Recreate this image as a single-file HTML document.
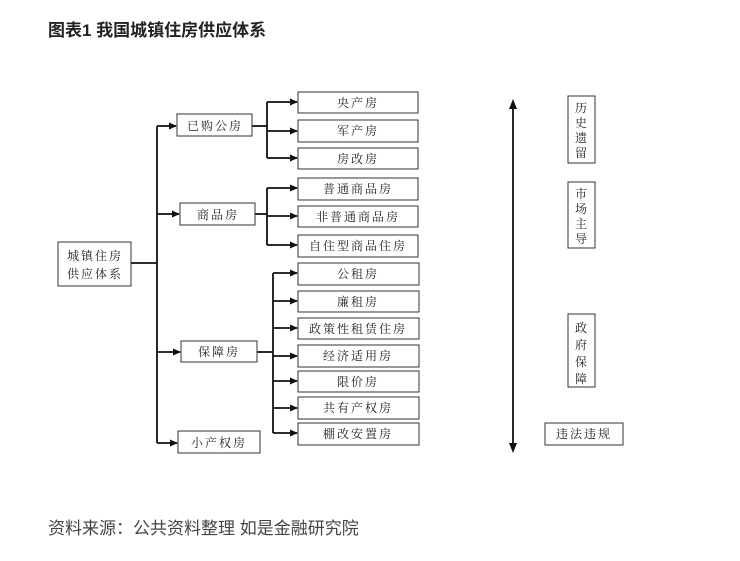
<!DOCTYPE html>
<html><head><meta charset="utf-8"><style>
html,body{margin:0;padding:0;background:#fff;}
svg{display:block;}
</style></head><body>
<svg width="740" height="561" viewBox="0 0 740 561" xmlns="http://www.w3.org/2000/svg">
<defs><marker id="a" markerWidth="8" markerHeight="8" refX="7" refY="4" orient="auto" markerUnits="userSpaceOnUse"><path d="M0,0.5 L8,4 L0,7.5 z" fill="#111"/></marker></defs>
<text x="48" y="36" font-family="'Liberation Sans','Noto Sans CJK SC',sans-serif" font-size="17" font-weight="bold" fill="#222">图表1 我国城镇住房供应体系</text>
<g stroke="#111" stroke-width="1.8" fill="none">
<line x1="131" y1="263" x2="157" y2="263"/>
<line x1="157" y1="126" x2="157" y2="443"/>
<line x1="157" y1="126" x2="176" y2="126" marker-end="url(#a)"/>
<line x1="157" y1="214" x2="179" y2="214" marker-end="url(#a)"/>
<line x1="157" y1="352" x2="180" y2="352" marker-end="url(#a)"/>
<line x1="157" y1="443" x2="177" y2="443" marker-end="url(#a)"/>
<line x1="252" y1="126" x2="267" y2="126"/>
<line x1="267" y1="102" x2="267" y2="158"/>
<line x1="267" y1="102" x2="297" y2="102" marker-end="url(#a)"/>
<line x1="267" y1="131" x2="297" y2="131" marker-end="url(#a)"/>
<line x1="267" y1="158" x2="297" y2="158" marker-end="url(#a)"/>
<line x1="255" y1="214" x2="267" y2="214"/>
<line x1="267" y1="188" x2="267" y2="245"/>
<line x1="267" y1="188" x2="297" y2="188" marker-end="url(#a)"/>
<line x1="267" y1="216" x2="297" y2="216" marker-end="url(#a)"/>
<line x1="267" y1="245" x2="297" y2="245" marker-end="url(#a)"/>
<line x1="257" y1="352" x2="273" y2="352"/>
<line x1="273" y1="273" x2="273" y2="433"/>
<line x1="273" y1="273" x2="297" y2="273" marker-end="url(#a)"/>
<line x1="273" y1="301" x2="297" y2="301" marker-end="url(#a)"/>
<line x1="273" y1="328" x2="297" y2="328" marker-end="url(#a)"/>
<line x1="273" y1="356" x2="297" y2="356" marker-end="url(#a)"/>
<line x1="273" y1="381" x2="297" y2="381" marker-end="url(#a)"/>
<line x1="273" y1="408" x2="297" y2="408" marker-end="url(#a)"/>
<line x1="273" y1="433" x2="297" y2="433" marker-end="url(#a)"/>
<line x1="513" y1="108" x2="513" y2="444"/>
<path d="M509,109 L513,99 L517,109 z M509,443 L513,453 L517,443 z" fill="#111" stroke="none"/>
</g>
<g stroke="#333" stroke-width="1" fill="#fff">
<rect x="58" y="242" width="73" height="44"/>
<rect x="177" y="114" width="75" height="22"/>
<rect x="180" y="203" width="75" height="22"/>
<rect x="181" y="341" width="76" height="21"/>
<rect x="178" y="431" width="82" height="22"/>
<rect x="298" y="92" width="120" height="21"/>
<rect x="298" y="120" width="120" height="22"/>
<rect x="298" y="148" width="120" height="21"/>
<rect x="298" y="178" width="120" height="22"/>
<rect x="298" y="206" width="120" height="21"/>
<rect x="298" y="235" width="120" height="22"/>
<rect x="298" y="263" width="121" height="22"/>
<rect x="298" y="291" width="121" height="21"/>
<rect x="298" y="318" width="121" height="21"/>
<rect x="298" y="345" width="121" height="22"/>
<rect x="298" y="371" width="121" height="21"/>
<rect x="298" y="397" width="121" height="22"/>
<rect x="298" y="423" width="121" height="22"/>
<rect x="568" y="96" width="27" height="67"/>
<rect x="568" y="182" width="27" height="66"/>
<rect x="568" y="314" width="27" height="73"/>
<rect x="545" y="423" width="78" height="22"/>
</g>
<g font-family="'Liberation Serif','Noto Serif CJK SC',serif" font-size="12" fill="#222" text-anchor="middle" letter-spacing="2">
<text x="95" y="260">城镇住房</text>
<text x="95" y="278">供应体系</text>
<text x="215" y="130">已购公房</text>
<text x="218" y="219">商品房</text>
<text x="219" y="356">保障房</text>
<text x="219" y="447">小产权房</text>
<text x="358" y="107">央产房</text>
<text x="358" y="135">军产房</text>
<text x="358" y="163">房改房</text>
<text x="358" y="193">普通商品房</text>
<text x="358" y="221">非普通商品房</text>
<text x="358" y="250">自住型商品住房</text>
<text x="358" y="278">公租房</text>
<text x="358" y="306">廉租房</text>
<text x="358" y="333">政策性租赁住房</text>
<text x="358" y="360">经济适用房</text>
<text x="358" y="386">限价房</text>
<text x="358" y="412">共有产权房</text>
<text x="358" y="438">棚改安置房</text>
<text x="584" y="438">违法违规</text>
</g>
<g font-family="'Liberation Serif','Noto Serif CJK SC',serif" font-size="12" fill="#222" text-anchor="middle">
<text x="581" y="112">历</text><text x="581" y="127">史</text><text x="581" y="142">遗</text><text x="581" y="157">留</text>
<text x="581" y="198">市</text><text x="581" y="213">场</text><text x="581" y="228">主</text><text x="581" y="243">导</text>
<text x="581" y="332">政</text><text x="581" y="349">府</text><text x="581" y="366">保</text><text x="581" y="383">障</text>
</g>
<text x="48" y="534" font-family="'Liberation Sans','Noto Sans CJK SC',sans-serif" font-size="17" fill="#444">资料来源：公共资料整理 如是金融研究院</text>
</svg>
</body></html>
